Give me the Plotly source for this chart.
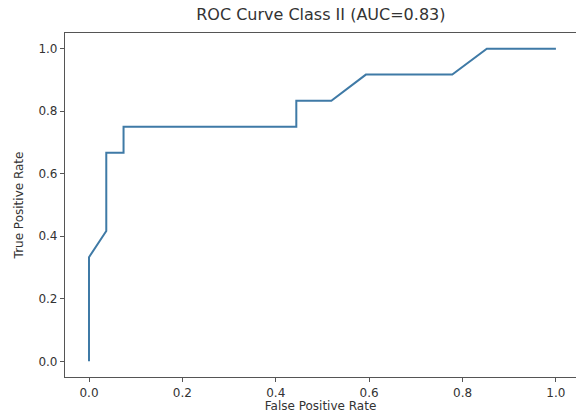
import plotly.graph_objects as go

# ROC points
fpr = [0.0, 0.0, 0.037, 0.037, 0.074, 0.074, 0.444, 0.444, 0.519, 0.593, 0.778, 0.852, 1.0]
tpr = [0.0, 0.333, 0.417, 0.667, 0.667, 0.75, 0.75, 0.833, 0.833, 0.917, 0.917, 1.0, 1.0]
tick_vals = [0.0, 0.2, 0.4, 0.6, 0.8, 1.0]

fig = go.Figure()
fig.add_trace(go.Scatter(x=fpr, y=tpr, mode="lines",
                         line=dict(color="#3f7aa6", width=2)))

axis_style = dict(showline=True, mirror=True, linecolor="#555555", linewidth=1.2,
                  ticks="outside", ticklen=4, tickcolor="#555555",
                  showgrid=False, zeroline=False, tickvals=tick_vals,
                  tickformat=".1f", tickfont=dict(size=12, color="#333333"),
                  automargin=False)

fig.update_layout(
    width=576, height=414,
    margin=dict(l=65, r=0, t=33, b=37),
    paper_bgcolor="white", plot_bgcolor="white",
    font=dict(family="DejaVu Sans", color="#333333"),
    showlegend=False,
    title=dict(text="ROC Curve Class II (AUC=0.83)", x=0.557, xanchor="center",
               y=0.965, yanchor="middle", font=dict(size=16)),
)
fig.update_xaxes(range=[-0.0514, 1.043], title=dict(text="False Positive Rate",
                 font=dict(size=12), standoff=1), **axis_style)
fig.update_yaxes(range=[-0.05, 1.05], title=dict(text="True Positive Rate",
                 font=dict(size=12), standoff=12), **axis_style)

# page body has a default 8px margin; drop it so the figure sits at the corner
fig.write_html("out.html", config={"displayModeBar": False},
               post_script="document.body.style.margin='0';")
